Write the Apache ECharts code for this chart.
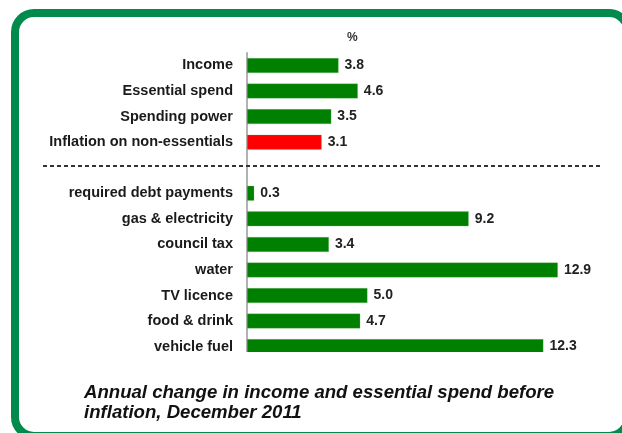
<!DOCTYPE html>
<html>
<head>
<meta charset="utf-8">
<script src="https://cdn.jsdelivr.net/npm/echarts@6/dist/echarts.min.js"></script>
<style>
html,body{margin:0;padding:0;background:#fff;}
#chart{width:622px;height:433px;}
</style>
</head>
<body>
<div id="chart"></div>
<script>
// Data
var categories = ['Income', 'Essential spend', 'Spending power', 'Inflation on non-essentials', '',
  'required debt payments', 'gas & electricity', 'council tax', 'water', 'TV licence', 'food & drink', 'vehicle fuel'];
var values = [3.8, 4.6, 3.5, 3.1, null, 0.3, 9.2, 3.4, 12.9, 5.0, 4.7, 12.3];
var highlighted = ['Inflation on non-essentials'];
var unitLabel = '%';
var captionLines = ['Annual change in income and essential spend before', 'inflation, December 2011'];

var FONT = '"Liberation Sans", Arial, sans-serif';
var chart = echarts.init(document.getElementById('chart'), null, {renderer: 'canvas'});

chart.setOption({
  backgroundColor: '#ffffff',
  animation: false,
  title: {
    text: unitLabel,
    left: 342, top: 27,
    textStyle: {fontFamily: FONT, fontSize: 12, fontWeight: 'bold', color: '#333'}
  },
  grid: {left: 247, right: 13.5, top: 52.7, bottom: 73.6, containLabel: false},
  xAxis: {
    type: 'value', min: 0, max: 15, show: false
  },
  yAxis: {
    type: 'category', data: categories, inverse: true,
    axisLine: {show: true, lineStyle: {color: '#999', width: 1.5}},
    axisTick: {show: false},
    splitLine: {show: false},
    axisLabel: {fontFamily: FONT, fontSize: 14.5, fontWeight: 'bold', color: '#1a1a1a', margin: 14}
  },
  series: [{
    type: 'bar',
    data: values,
    barWidth: 15,
    itemStyle: {
      color: function (p) { return highlighted.indexOf(p.name) >= 0 ? '#ff0000' : '#008000'; },
      borderColor: 'rgba(120,200,120,0.5)', borderWidth: 0.5
    },
    label: {
      show: true, position: 'right', distance: 6,
      fontFamily: FONT, fontSize: 14, fontWeight: 'bold', color: '#222',
      formatter: function (p) { return p.value == null ? '' : p.value.toFixed(1); }
    }
  }],
  graphic: [
    {
      type: 'rect', z: 100, silent: true,
      shape: {x: 20, y: 352, width: 592, height: 20},
      style: {fill: '#ffffff'}
    },
    {
      type: 'line', z: 50, silent: true,
      shape: {x1: 43, y1: 166, x2: 600, y2: 166},
      style: {stroke: '#333', lineWidth: 2, lineDash: [4, 3]}
    },
    {
      type: 'text', z: 101, left: 84, top: 383,
      style: {
        text: captionLines.join('\n'),
        font: 'italic bold 18.6px ' + FONT,
        fill: '#111', lineHeight: 20
      }
    },
    {
      type: 'rect', z: 102, silent: true,
      shape: {x: 15, y: 13, width: 613, height: 423, r: 19},
      style: {fill: 'none', stroke: '#008A4B', lineWidth: 8}
    }
  ]
});
</script>
</body>
</html>
